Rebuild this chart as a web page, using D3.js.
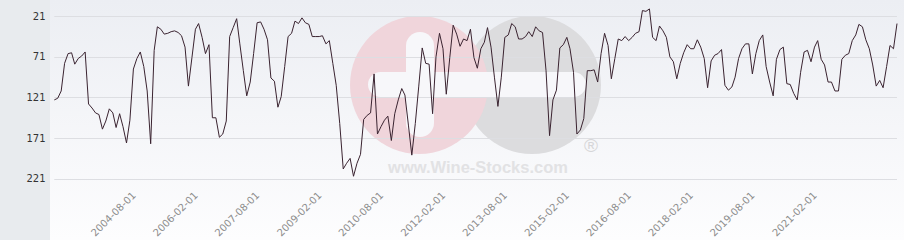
<!DOCTYPE html>
<html>
<head>
<meta charset="utf-8">
<script src="https://cdn.jsdelivr.net/npm/d3@7/dist/d3.min.js"></script>
<style>
  html, body { margin: 0; padding: 0; background: #fff; }
  #chart { width: 904px; height: 240px; }
</style>
</head>
<body>
<div id="chart"></div>
<script>
// Monthly ranking (lower = better, axis reversed), Sep 2002 .. Feb 2023
const firstMonth = new Date(2002, 8, 1);
const lastMonth = new Date(2023, 1, 1);

const ranks = [
  124, 122, 113, 79, 67, 66, 80, 73, 70, 65,
  129, 134, 140, 142, 160, 150, 135, 140, 158, 141,
  157, 177, 149, 86, 73, 65, 83, 113, 178, 63,
  34, 37, 43, 42, 40, 39, 41, 45, 59, 107,
  72, 37, 30, 47, 67, 56, 146, 146, 170, 166,
  150, 46, 35, 24, 55, 88, 119, 102, 67, 29,
  28, 37, 50, 97, 101, 133, 120, 83, 46, 42,
  27, 30, 23, 29, 31, 46, 46, 46, 45, 55,
  51, 79, 106, 153, 209, 202, 196, 218, 202, 191,
  148, 143, 140, 92, 166, 157, 149, 144, 174, 141,
  124, 110, 118, 155, 192, 153, 108, 60, 79, 80,
  141, 71, 42, 61, 117, 72, 32, 43, 58, 49,
  51, 37, 72, 85, 61, 53, 35, 59, 96, 132,
  96, 47, 44, 30, 34, 49, 49, 46, 40, 46,
  34, 39, 41, 88, 168, 124, 112, 60, 56, 47,
  61, 90, 166, 161, 147, 88, 88, 87, 102, 67,
  42, 57, 98, 73, 49, 51, 46, 51, 47, 42,
  40, 14, 15, 12, 47, 51, 33, 39, 47, 71,
  77, 98, 79, 66, 56, 61, 61, 50, 59, 73,
  109, 76, 69, 67, 62, 106, 112, 108, 96, 73,
  61, 55, 55, 92, 67, 51, 44, 83, 102, 119,
  74, 62, 59, 104, 105, 116, 124, 90, 65, 63,
  77, 59, 51, 74, 81, 102, 102, 113, 113, 74,
  69, 67, 51, 44, 31, 34, 50, 61, 81, 107,
  100, 109, 83, 57, 61, 30
];

const yTicks = [21, 71, 121, 171, 221];
const xTickLabels = [
  '2004-08-01', '2006-02-01', '2007-08-01', '2009-02-01', '2010-08-01', '2012-02-01',
  '2013-08-01', '2015-02-01', '2016-08-01', '2018-02-01', '2019-08-01', '2021-02-01'
];

const width = 904;
const height = 240;
const panelW = 50;
const plot = { left: 54.3, right: 897, top: 0, bottom: 199 };

const months = d3.timeMonth.range(firstMonth, d3.timeMonth.offset(lastMonth, 1));
const data = months.map((d, i) => ({ date: d, rank: ranks[i] }));

const svg = d3.select('#chart')
  .append('svg')
  .attr('width', width)
  .attr('height', height)
  .style('display', 'block');

// Background gradient
const defs = svg.append('defs');
const grad = defs.append('linearGradient')
  .attr('id', 'bg')
  .attr('x1', 0).attr('y1', 0).attr('x2', 0).attr('y2', 1);
grad.append('stop').attr('offset', '0%').attr('stop-color', '#eceef3');
grad.append('stop').attr('offset', '100%').attr('stop-color', '#fdfdfe');

svg.append('rect')
  .attr('width', width)
  .attr('height', height)
  .attr('fill', 'url(#bg)');

// Left grey panel holding the y labels
svg.append('rect')
  .attr('width', panelW)
  .attr('height', height)
  .attr('fill', '#e8ebee');

const x = d3.scaleTime()
  .domain([firstMonth, lastMonth])
  .range([plot.left, plot.right]);

const y = d3.scaleLinear()
  .domain([1, 246])
  .range([plot.top, plot.bottom]);

// Watermark logo
const wm = svg.append('g').attr('class', 'watermark');
wm.append('circle').attr('cx', 532).attr('cy', 85).attr('r', 69).attr('fill', '#dcdcde');
wm.append('circle').attr('cx', 419).attr('cy', 85).attr('r', 69).attr('fill', '#f0d5db');
wm.append('rect')
  .attr('x', 368).attr('y', 72).attr('width', 218).attr('height', 25)
  .attr('rx', 12.5).attr('fill', '#f7f7fa');
wm.append('rect')
  .attr('x', 406).attr('y', 32).attr('width', 28).attr('height', 105)
  .attr('rx', 14).attr('fill', '#f7f7fa');
wm.append('text')
  .attr('x', 478).attr('y', 173)
  .attr('text-anchor', 'middle')
  .style('font-family', '"Liberation Sans", Arial, sans-serif')
  .style('font-weight', '700')
  .style('font-size', '16.5px')
  .style('fill', '#e2e2e4')
  .text('www.Wine-Stocks.com');
wm.append('text')
  .attr('x', 591).attr('y', 152)
  .attr('text-anchor', 'middle')
  .style('font-family', '"Liberation Sans", Arial, sans-serif')
  .style('font-size', '19px')
  .style('fill', '#d6d6d8')
  .text('®');

// Grid lines
svg.append('g')
  .selectAll('line')
  .data(yTicks)
  .join('line')
  .attr('x1', plot.left)
  .attr('x2', plot.right)
  .attr('y1', d => Math.round(y(d)) + 0.5)
  .attr('y2', d => Math.round(y(d)) + 0.5)
  .attr('stroke', '#dddee2')
  .attr('stroke-width', 1);

// Y labels
svg.append('g')
  .selectAll('text')
  .data(yTicks)
  .join('text')
  .attr('x', 45.5)
  .attr('y', d => y(d))
  .attr('dy', '0.36em')
  .attr('text-anchor', 'end')
  .style('font-family', '"DejaVu Sans", sans-serif')
  .style('font-size', '10px')
  .style('fill', '#333')
  .text(d => d);

// X labels, rotated
const parse = d3.timeParse('%Y-%m-%d');
svg.append('g')
  .selectAll('text')
  .data(xTickLabels)
  .join('text')
  .attr('transform', d => `translate(${x(parse(d)) + 3},196) rotate(-45)`)
  .attr('text-anchor', 'end')
  .style('font-family', '"DejaVu Sans", sans-serif')
  .style('font-size', '10px')
  .style('fill', '#8c8c8c')
  .text(d => d);

// Ranking line
const line = d3.line()
  .x(d => x(d.date))
  .y(d => y(d.rank));

svg.append('path')
  .datum(data)
  .attr('d', line)
  .attr('fill', 'none')
  .attr('stroke', '#3a2330')
  .attr('stroke-width', 1)
  .attr('stroke-linejoin', 'round');
</script>
</body>
</html>
